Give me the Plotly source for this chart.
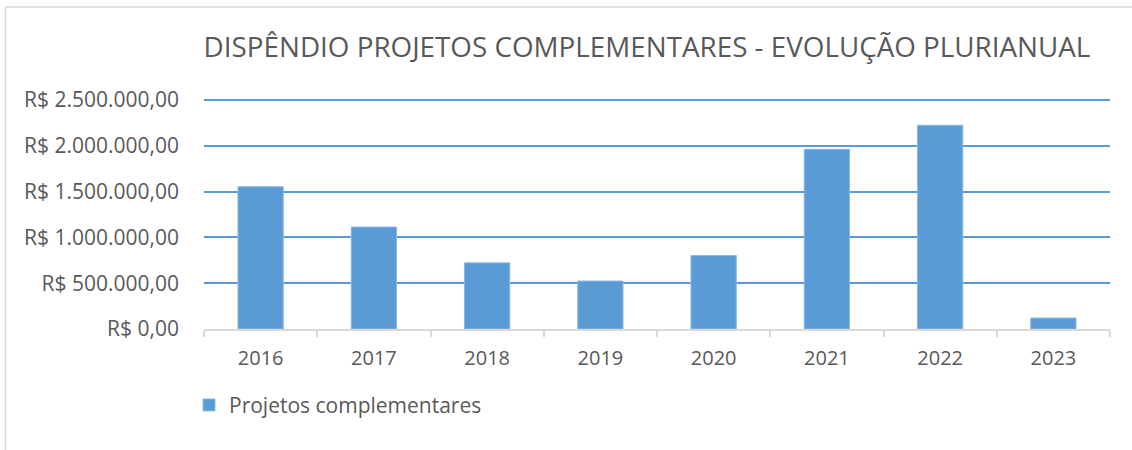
import plotly.graph_objects as go

years = ["2016", "2017", "2018", "2019", "2020", "2021", "2022", "2023"]
values = [1553000, 1113000, 722000, 524000, 802000, 1962000, 2224000, 120000]
y_tickvals = [0, 500000, 1000000, 1500000, 2000000, 2500000]
y_ticktext = ["R$ 0,00", "R$ 500.000,00", "R$ 1.000.000,00", "R$ 1.500.000,00",
              "R$ 2.000.000,00", "R$ 2.500.000,00"]

W, H = 1132, 450
L, R, T, B = 204, 22, 100, 121
pw, ph = W - L - R, H - T - B

def px(x):
    return (x - L) / pw

def py(y):
    return (H - B - y) / ph

FONT = "Open Sans"
GRAY = "#595959"

fig = go.Figure()
fig.add_trace(go.Bar(
    x=years, y=values, name="Projetos complementares",
    marker=dict(color="#5B9BD5", line=dict(color="#8db8e3", width=1)),
    width=0.4,
))

fig.update_layout(
    width=W, height=H,
    margin=dict(l=L, r=R, t=T - 1, b=B),
    paper_bgcolor="white", plot_bgcolor="white",
    font=dict(family=FONT, color=GRAY, size=20),
    title=dict(text="DISPÊNDIO PROJETOS COMPLEMENTARES - EVOLUÇÃO PLURIANUAL",
               x=px(647), xref="paper", xanchor="center",
               y=1 - 47 / H, yanchor="middle",
               font=dict(family=FONT, size=27.8, color=GRAY)),
    showlegend=True,
    legend=dict(orientation="h", x=px(189), y=py(405), xanchor="left", yanchor="middle",
                font=dict(family=FONT, size=21, color=GRAY),
                itemwidth=30, bgcolor="rgba(0,0,0,0)"),
    bargap=0.6,
    xaxis=dict(type="category", showgrid=False, showline=True, linecolor="#d9d9d9",
               linewidth=1.5, ticks="outside", tickson="boundaries", ticklen=6,
               tickcolor="#d9d9d9", tickwidth=1.5, ticklabelstandoff=10,
               tickfont=dict(family=FONT, size=20, color=GRAY)),
    yaxis=dict(range=[0, 2511000], tickvals=y_tickvals, ticktext=y_ticktext,
               showgrid=True, gridcolor="#5B9BD5", gridwidth=1.6, zeroline=False,
               showline=False, ticks="", ticklabelstandoff=24,
               tickfont=dict(family=FONT, size=21, color=GRAY)),
)

fig.add_shape(type="rect", xref="paper", yref="paper",
              x0=px(5.5), x1=px(1200), y0=py(600), y1=py(8.5),
              line=dict(color="#d9d9d9", width=1.5), fillcolor="rgba(0,0,0,0)",
              layer="below")

fig.write_html("out.html", config={"displayModeBar": False},
               post_script="document.body.style.margin='0';document.body.style.padding='0';")
